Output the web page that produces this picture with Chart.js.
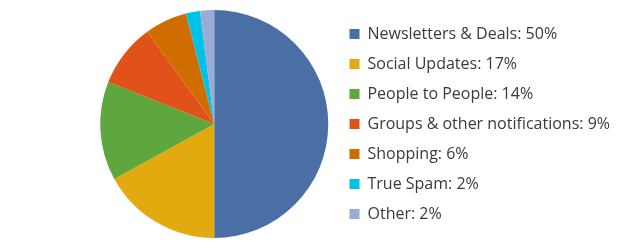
<!DOCTYPE html>
<html>
<head>
<meta charset="utf-8">
<script src="https://cdn.jsdelivr.net/npm/chart.js@4/dist/chart.umd.min.js"></script>
<style>
  html, body { margin: 0; padding: 0; background: #ffffff; }
  #wrap { width: 624px; height: 248px; position: relative; }
</style>
</head>
<body>
<div id="wrap"><canvas id="c" width="624" height="248"></canvas></div>
<script>
const categories = ["Newsletters & Deals", "Social Updates", "People to People", "Groups & other notifications", "Shopping", "True Spam", "Other"];
const values = [50, 17, 14, 9, 6, 2, 2];
const colors = ["#4a6fa5", "#e3aa10", "#5fa63e", "#e1511a", "#d06d00", "#00c2e6", "#9aabd6"];

const labels = categories.map((c, i) => c + ": " + values[i] + "%");

new Chart(document.getElementById('c'), {
  type: 'pie',
  data: {
    labels: labels,
    datasets: [{
      data: values,
      backgroundColor: colors,
      borderWidth: 0
    }]
  },
  options: {
    responsive: false,
    animation: false,
    layout: { padding: { top: 10, bottom: 10, left: 93, right: 4 } },
    plugins: {
      tooltip: { enabled: false },
      legend: {
        position: 'right',
        align: 'center',
        maxWidth: 330,
        labels: {
          boxWidth: 10,
          boxHeight: 10,
          padding: 14,
          color: '#3a3a3a',
          font: { family: "'Open Sans', sans-serif", size: 16 }
        }
      }
    }
  }
});
</script>
</body>
</html>
